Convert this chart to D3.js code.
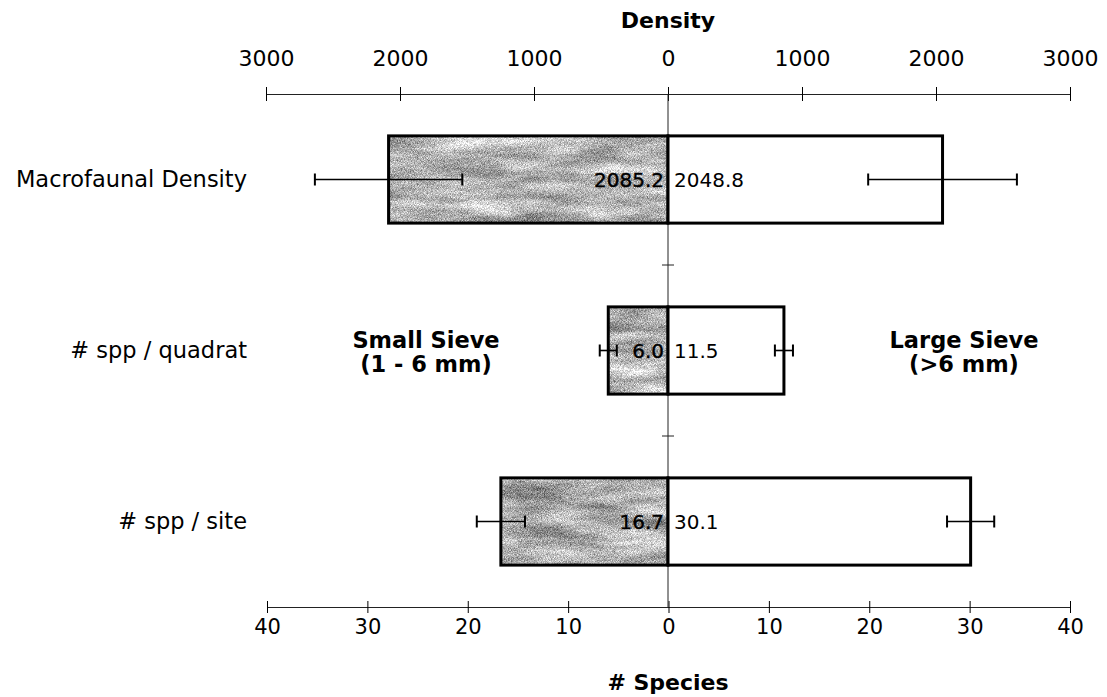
<!DOCTYPE html>
<html>
<head>
<meta charset="utf-8">
<script src="https://cdn.jsdelivr.net/npm/d3@7"></script>
<style>
  html, body { margin: 0; padding: 0; background: #fff; }
  svg { display: block; font-family: "DejaVu Sans", Verdana, sans-serif; }
</style>
</head>
<body>
<svg id="chart" width="1107" height="697"></svg>
<script>
// Sieve comparison: small (1–6 mm) vs large (>6 mm) mesh
const categories = ["Macrofaunal Density", "# spp / quadrat", "# spp / site"];
const measureScale = ["density", "species", "species"];
const smallSieve = [2085.2, 6.0, 16.7];
const largeSieve = [2048.8, 11.5, 30.1];
const smallErr = [550, 0.85, 2.4];
const largeErr = [555, 0.9, 2.35];
const densityTicks = [-3000, -2000, -1000, 0, 1000, 2000, 3000];
const speciesTicks = [-40, -30, -20, -10, 0, 10, 20, 30, 40];

const svg = d3.select("#chart");
const plotL = 266, plotR = 1070, plotT = 94, plotB = 607;
const FONT = "DejaVu Sans, Verdana, sans-serif";

const xDensity = d3.scaleLinear().domain([-3000, 3000]).range([plotL, plotR]);
const xSpecies = d3.scaleLinear().domain([-40, 40]).range([plotL + 1, plotR]);
const xFor = i => measureScale[i] === "density" ? xDensity : xSpecies;
const y = d3.scaleBand().domain(categories).range([plotT, plotB]);
const x0 = xDensity(0);

// grainy grey fill for the small-sieve bars
const defs = svg.append("defs");
const f = defs.append("filter").attr("id", "grain")
  .attr("x", 0).attr("y", 0).attr("width", 1).attr("height", 1)
  .attr("color-interpolation-filters", "sRGB");
f.append("feTurbulence").attr("type", "fractalNoise")
  .attr("baseFrequency", "0.012 0.06").attr("numOctaves", 3).attr("seed", 7).attr("result", "mottle");
f.append("feColorMatrix").attr("in", "mottle").attr("type", "matrix")
  .attr("values", "0.8 0 0 0 0.3  0.8 0 0 0 0.3  0.8 0 0 0 0.3  0 0 0 0 1").attr("result", "mg");
f.append("feTurbulence").attr("type", "fractalNoise")
  .attr("baseFrequency", "1.3").attr("numOctaves", 1).attr("seed", 3).attr("result", "fine");
f.append("feColorMatrix").attr("in", "fine").attr("type", "matrix")
  .attr("values", "1 0 0 0 0  1 0 0 0 0  1 0 0 0 0  0 0 0 0 1").attr("result", "fg");
f.append("feComposite").attr("in", "mg").attr("in2", "fg").attr("operator", "arithmetic")
  .attr("k1", 0).attr("k2", 1).attr("k3", 0.9).attr("k4", -0.45).attr("result", "tex");
f.append("feComposite").attr("in", "tex").attr("in2", "SourceGraphic").attr("operator", "in");

const fmtAbs = d => Math.abs(d);

// top density axis
const topAxis = svg.append("g").attr("transform", `translate(0,${plotT})`)
  .call(d3.axisTop(xDensity).tickValues(densityTicks).tickFormat(fmtAbs)
    .tickSize(7).tickSizeOuter(0).tickPadding(21));
topAxis.selectAll(".tick line").attr("y1", 7);
topAxis.select(".domain").attr("stroke", "#222");
topAxis.selectAll("text").attr("font-size", 22).attr("fill", "#000").attr("font-family", FONT);

// bottom species axis
const botAxis = svg.append("g").attr("transform", `translate(0,${plotB})`)
  .call(d3.axisBottom(xSpecies).tickValues(speciesTicks).tickFormat(fmtAbs)
    .tickSize(6).tickSizeOuter(0).tickPadding(6));
botAxis.selectAll(".tick line").attr("y1", -6);
botAxis.select(".domain").attr("stroke", "#222");
botAxis.selectAll("text").attr("font-size", 21).attr("fill", "#000").attr("font-family", FONT);

// axis titles
svg.append("text").attr("x", x0).attr("y", 28).attr("text-anchor", "middle")
  .attr("font-size", 22).attr("font-weight", "bold").text("Density");
svg.append("text").attr("x", x0).attr("y", 690).attr("text-anchor", "middle")
  .attr("font-size", 22).attr("font-weight", "bold").text("# Species");

// central category axis with ticks at band edges
svg.append("line").attr("x1", x0).attr("x2", x0).attr("y1", plotT).attr("y2", plotB)
  .attr("stroke", "#222").attr("stroke-width", 1);
const edges = categories.slice(1).map(c => y(c));
svg.selectAll(".edge").data(edges).join("line")
  .attr("x1", x0 - 6).attr("x2", x0 + 6).attr("y1", d => d).attr("y2", d => d)
  .attr("stroke", "#222");

// category labels
svg.selectAll(".cat").data(categories).join("text")
  .attr("x", 247).attr("y", d => y(d) + y.bandwidth() / 2)
  .attr("dy", "0.35em").attr("text-anchor", "end").attr("font-size", 22.5).text(d => d);

const barH = y.bandwidth() * 0.51;
const barY = i => y(categories[i]) + (y.bandwidth() - barH) / 2;

// bars: small sieve to the left, large sieve to the right
const g = svg.append("g");
categories.forEach((c, i) => {
  const sx = xFor(i);
  g.append("rect").attr("x", sx(-smallSieve[i])).attr("y", barY(i))
    .attr("width", x0 - sx(-smallSieve[i])).attr("height", barH)
    .attr("fill", "#999").attr("filter", "url(#grain)");
  g.append("rect").attr("x", sx(-smallSieve[i])).attr("y", barY(i))
    .attr("width", x0 - sx(-smallSieve[i])).attr("height", barH)
    .attr("fill", "none").attr("stroke", "#000").attr("stroke-width", 3);
  g.append("rect").attr("x", x0).attr("y", barY(i))
    .attr("width", sx(largeSieve[i]) - x0).attr("height", barH)
    .attr("fill", "#fff").attr("stroke", "#000").attr("stroke-width", 3);
});

// error bars
function errBar(cx0, cx1, cy) {
  g.append("line").attr("x1", cx0).attr("x2", cx1).attr("y1", cy).attr("y2", cy)
    .attr("stroke", "#000").attr("stroke-width", 1.6);
  [cx0, cx1].forEach(cx => g.append("line").attr("x1", cx).attr("x2", cx)
    .attr("y1", cy - 6).attr("y2", cy + 6).attr("stroke", "#000").attr("stroke-width", 2));
}
categories.forEach((c, i) => {
  const sx = xFor(i);
  const cy = barY(i) + barH / 2;
  errBar(sx(-smallSieve[i] - smallErr[i]), sx(-smallSieve[i] + smallErr[i]), cy);
  errBar(sx(largeSieve[i] - largeErr[i]), sx(largeSieve[i] + largeErr[i]), cy);
});

// value labels
categories.forEach((c, i) => {
  const cy = barY(i) + barH / 2;
  g.append("text").attr("x", x0 - 4).attr("y", cy).attr("dy", "0.35em")
    .attr("text-anchor", "end").attr("font-size", 20).attr("fill", "#000")
    .attr("stroke", "#000").attr("stroke-width", 0.4)
    .text(smallSieve[i].toFixed(1));
  g.append("text").attr("x", x0 + 6).attr("y", cy).attr("dy", "0.35em")
    .attr("text-anchor", "start").attr("font-size", 20).attr("fill", "#000")
    .text(largeSieve[i].toFixed(1));
});

// sieve annotations
const notes = [
  { x: 426, lines: ["Small Sieve", "(1 - 6 mm)"] },
  { x: 964, lines: ["Large Sieve", "(>6 mm)"] }
];
notes.forEach(n => {
  const t = svg.append("text").attr("x", n.x).attr("y", 348)
    .attr("text-anchor", "middle").attr("font-size", 22.5).attr("font-weight", "bold");
  n.lines.forEach((l, k) => t.append("tspan").attr("x", n.x).attr("dy", k ? 24 : 0).text(l));
});
</script>
</body>
</html>
